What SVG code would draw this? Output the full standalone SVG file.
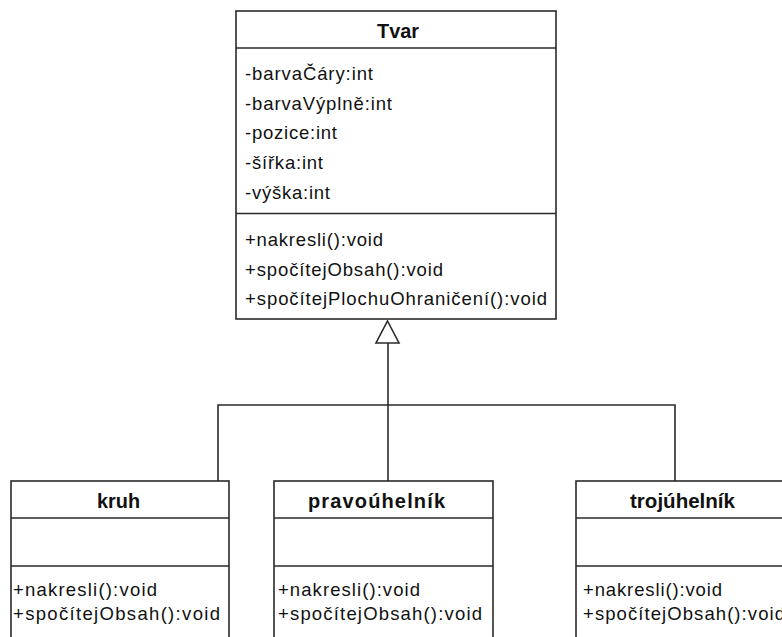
<svg xmlns="http://www.w3.org/2000/svg" width="782" height="637" viewBox="0 0 782 637">
  <style>
    .box { fill: #ffffff; stroke: #2a2a2a; stroke-width: 1.6; }
    .div { stroke: #2a2a2a; stroke-width: 1.6; fill: none; }
    .conn { stroke: #2a2a2a; stroke-width: 1.6; fill: none; }
    .title { font-family: "Liberation Sans", Arial, sans-serif; font-size: 20px; font-weight: bold; fill: #111; }
    .txt { font-family: "Liberation Sans", Arial, sans-serif; font-size: 18.5px; fill: #111; }
  </style>
  <rect width="782" height="637" fill="#ffffff"/>

  <g id="connectors">
    <polyline class="conn" points="218,481 218,405 675,405 675,481"/>
    <line class="conn" x1="388" y1="343" x2="388" y2="481"/>
    <polygon class="conn" fill="#ffffff" points="387.5,321 399,343 376,343"/>
  </g>

  <g id="Tvar">
    <rect class="box" x="236" y="11" width="320" height="308"/>
    <line class="div" x1="236" y1="48" x2="556" y2="48"/>
    <line class="div" x1="236" y1="213.5" x2="556" y2="213.5"/>
    <text class="title" x="377" y="38" textLength="42" lengthAdjust="spacingAndGlyphs">Tvar</text>
    <text class="txt" x="245" y="80" textLength="128" lengthAdjust="spacing">-barvaČáry:int</text>
    <text class="txt" x="245" y="109.5" textLength="147" lengthAdjust="spacing">-barvaVýplně:int</text>
    <text class="txt" x="245" y="139" textLength="92" lengthAdjust="spacing">-pozice:int</text>
    <text class="txt" x="245" y="169" textLength="78" lengthAdjust="spacing">-šířka:int</text>
    <text class="txt" x="245" y="198.5" textLength="85" lengthAdjust="spacing">-výška:int</text>
    <text class="txt" x="245" y="246" textLength="138" lengthAdjust="spacing">+nakresli():void</text>
    <text class="txt" x="245" y="275.5" textLength="198" lengthAdjust="spacing">+spočítejObsah():void</text>
    <text class="txt" x="245" y="305" textLength="302" lengthAdjust="spacing">+spočítejPlochuOhraničení():void</text>
  </g>

  <g id="kruh">
    <rect class="box" x="11" y="481" width="218" height="180"/>
    <line class="div" x1="11" y1="518" x2="229" y2="518"/>
    <line class="div" x1="11" y1="566" x2="229" y2="566"/>
    <text class="title" x="97" y="508" textLength="43" lengthAdjust="spacingAndGlyphs">kruh</text>
    <text class="txt" x="13" y="596" textLength="144" lengthAdjust="spacing">+nakresli():void</text>
    <text class="txt" x="13" y="620" textLength="207" lengthAdjust="spacing">+spočítejObsah():void</text>
  </g>

  <g id="pravouhelnik">
    <rect class="box" x="274" y="481" width="219" height="180"/>
    <line class="div" x1="274" y1="518" x2="493" y2="518"/>
    <line class="div" x1="274" y1="566" x2="493" y2="566"/>
    <text class="title" x="308" y="508" textLength="137" lengthAdjust="spacing">pravoúhelník</text>
    <text class="txt" x="278" y="596" textLength="142" lengthAdjust="spacing">+nakresli():void</text>
    <text class="txt" x="278" y="620" textLength="204" lengthAdjust="spacing">+spočítejObsah():void</text>
  </g>

  <g id="trojuhelnik">
    <rect class="box" x="576" y="481" width="230" height="180"/>
    <line class="div" x1="576" y1="518" x2="806" y2="518"/>
    <line class="div" x1="576" y1="566" x2="806" y2="566"/>
    <text class="title" x="630" y="508" textLength="105" lengthAdjust="spacingAndGlyphs">trojúhelník</text>
    <text class="txt" x="583" y="596" textLength="139" lengthAdjust="spacing">+nakresli():void</text>
    <text class="txt" x="583" y="620" textLength="202" lengthAdjust="spacing">+spočítejObsah():void</text>
  </g>
</svg>
